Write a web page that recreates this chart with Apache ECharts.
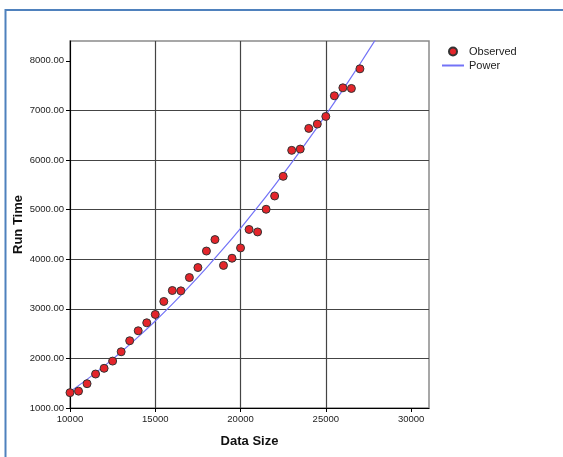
<!DOCTYPE html>
<html>
<head>
<meta charset="utf-8">
<script src="https://cdn.jsdelivr.net/npm/echarts@6/dist/echarts.min.js"></script>
<style>
html,body{margin:0;padding:0;background:#fff;}
#chart{width:563px;height:457px;}
</style>
</head>
<body>
<div id="chart"></div>
<script>
// Observed data
const dataSize = [10000,10500,11000,11500,12000,12500,13000,13500,14000,14500,15000,15500,16000,16500,17000,17500,18000,18500,19000,19500,20000,20500,21000,21500,22000,22500,23000,23500,24000,24500,25000,25500,26000,26500,27000];
const runTime = [1310,1340,1490,1685,1800,1946,2134,2356,2557,2718,2886,3148,3369,3362,3631,3832,4165,4396,3875,4020,4228,4600,4550,5007,5275,5671,6195,6221,6638,6725,6879,7295,7456,7443,7839];
// Power fit curve
const powerX = [10000,11000,12000,13000,14000,15000,16000,17000,18000,19000,20000,21000,22000,23000,24000,25000,26000,27000,28000];
const powerY = [1328,1577,1844,2130,2433,2755,3095,3451,3826,4217,4624,5049,5490,5947,6421,6910,7416,7937,8474];
const xTicks = [10000,15000,20000,25000,30000];
const yTicks = [1000,2000,3000,4000,5000,6000,7000,8000];

const chart = echarts.init(document.getElementById('chart'), null, {renderer:'canvas'});
const font = 'Arial, "Liberation Sans", sans-serif';
chart.setOption({
  animation:false,
  backgroundColor:'#fff',
  graphic:[{type:'rect', shape:{x:5.5,y:10,width:700,height:600}, style:{fill:'none', stroke:'#4f81bd', lineWidth:2}, silent:true}],
  grid:{left:70, top:41, width:359, height:367, show:true, borderColor:'#8a8a8a', borderWidth:1.5, containLabel:false, outerBoundsMode:'none'},
  legend:{
    orient:'vertical', left:436, top:41, itemWidth:22, itemHeight:8, itemGap:3,
    textStyle:{fontFamily:font, fontSize:11, color:'#222'},
    data:[{name:'Observed', icon:'circle'},{name:'Power', itemStyle:{opacity:0, color:'transparent', borderWidth:0}}]
  },
  xAxis:{
    type:'value', min:10000, max:31050, interval:5000,
    name:'Data Size', nameLocation:'middle', nameGap:27, nameMoveOverlap:false,
    nameTextStyle:{fontFamily:font, fontSize:13, fontWeight:'bold', color:'#111'},
    axisLine:{lineStyle:{color:'#000', width:1}},
    axisTick:{length:4, lineStyle:{color:'#000'}, customValues:xTicks},
    axisLabel:{margin:6, fontFamily:font, fontSize:9.5, color:'#222', customValues:xTicks, formatter:v=> String(v)},
    splitLine:{show:true, showMaxLine:false, lineStyle:{color:'#444', width:1.2}}
  },
  yAxis:{
    type:'value', min:1000, max:8400, interval:1000,
    name:'Run Time', nameLocation:'middle', nameGap:45, nameMoveOverlap:false,
    nameTextStyle:{fontFamily:font, fontSize:13, fontWeight:'bold', color:'#111'},
    axisLine:{show:true, lineStyle:{color:'#000', width:1}},
    axisTick:{show:true, length:4, lineStyle:{color:'#000'}, customValues:yTicks},
    axisLabel:{margin:6, fontFamily:font, fontSize:9.5, color:'#222', customValues:yTicks, formatter:v=> v.toFixed(2)},
    splitLine:{show:true, showMaxLine:false, lineStyle:{color:'#444', width:1.2}}
  },
  series:[
    {name:'Observed', type:'scatter', symbol:'circle', symbolSize:8,
     itemStyle:{color:'#e4252b', borderColor:'#333', borderWidth:1, opacity:1},
     data: dataSize.map((x,i)=>[x, runTime[i]]), z:3},
    {name:'Power', type:'line', symbol:'none', smooth:0.3,
     lineStyle:{color:'#7373f7', width:1.2}, itemStyle:{color:'#7373f7'},
     data: powerX.map((x,i)=>[x, powerY[i]]), z:2}
  ]
});
</script>
</body>
</html>
